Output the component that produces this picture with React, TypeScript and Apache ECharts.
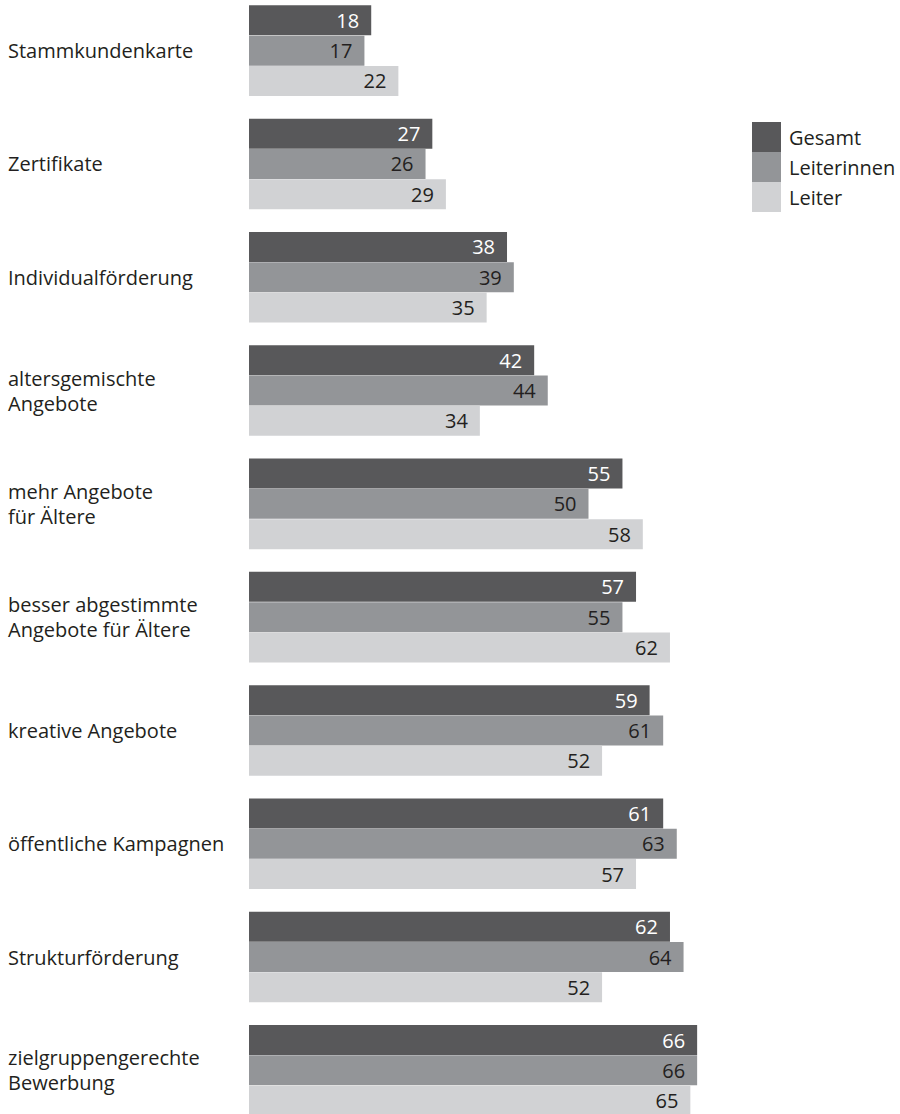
import React, { useEffect, useRef } from "react";
import * as echarts from "echarts";

const categories = [
  "Stammkundenkarte",
  "Zertifikate",
  "Individualförderung",
  "altersgemischte\nAngebote",
  "mehr Angebote\nfür Ältere",
  "besser abgestimmte\nAngebote für Ältere",
  "kreative Angebote",
  "öffentliche Kampagnen",
  "Strukturförderung",
  "zielgruppengerechte\nBewerbung",
];
const gesamt = [18, 27, 38, 42, 55, 57, 59, 61, 62, 66];
const leiterinnen = [17, 26, 39, 44, 50, 55, 61, 63, 64, 66];
const leiter = [22, 29, 35, 34, 58, 62, 52, 57, 52, 65];

const FONT = "'Open Sans', 'Noto Sans', sans-serif";

export default function App() {
  const ref = useRef<HTMLDivElement>(null);
  useEffect(() => {
    if (!ref.current) return;
    const chart = echarts.init(ref.current, undefined, { renderer: "svg" });
    const mk = (name: string, data: number[], color: string, labelColor: string) => ({
      name,
      type: "bar",
      data,
      barWidth: 30,
      barGap: "1%",
      itemStyle: { color },
      label: {
        show: true,
        position: "insideRight",
        distance: 12,
        color: labelColor,
        fontSize: 20,
        fontFamily: FONT,
      },
    });
    chart.setOption({
      animation: false,
      textStyle: { fontFamily: FONT },
      grid: {
        left: 249,
        width: 679,
        top: -6,
        bottom: -13,
        containLabel: false,
        outerBoundsMode: "none",
      },
      legend: {
        orient: "vertical",
        left: 747,
        top: 117,
        itemGap: 0,
        itemWidth: 29,
        itemHeight: 30,
        icon: "rect",
        textStyle: { fontSize: 20, color: "#231f20", fontFamily: FONT, padding: [0, 0, 0, 3] },
        data: ["Gesamt", "Leiterinnen", "Leiter"],
      },
      xAxis: {
        type: "value",
        min: 0,
        max: 100,
        show: false,
      },
      yAxis: {
        type: "category",
        data: categories,
        inverse: true,
        axisLine: { show: false },
        axisTick: { show: false },
        splitLine: { show: false },
        axisLabel: {
          align: "left",
          margin: 241,
          fontSize: 20,
          lineHeight: 25,
          color: "#231f20",
          fontFamily: FONT,
        },
      },
      series: [
        mk("Gesamt", gesamt, "#58585a", "#ffffff"),
        mk("Leiterinnen", leiterinnen, "#939598", "#231f20"),
        mk("Leiter", leiter, "#d1d2d4", "#231f20"),
      ],
    });
    return () => chart.dispose();
  }, []);
  return (
    <div
      ref={ref}
      style={{ position: "absolute", left: 0, top: 0, width: 900, height: 1114, background: "#fff" }}
    />
  );
}
